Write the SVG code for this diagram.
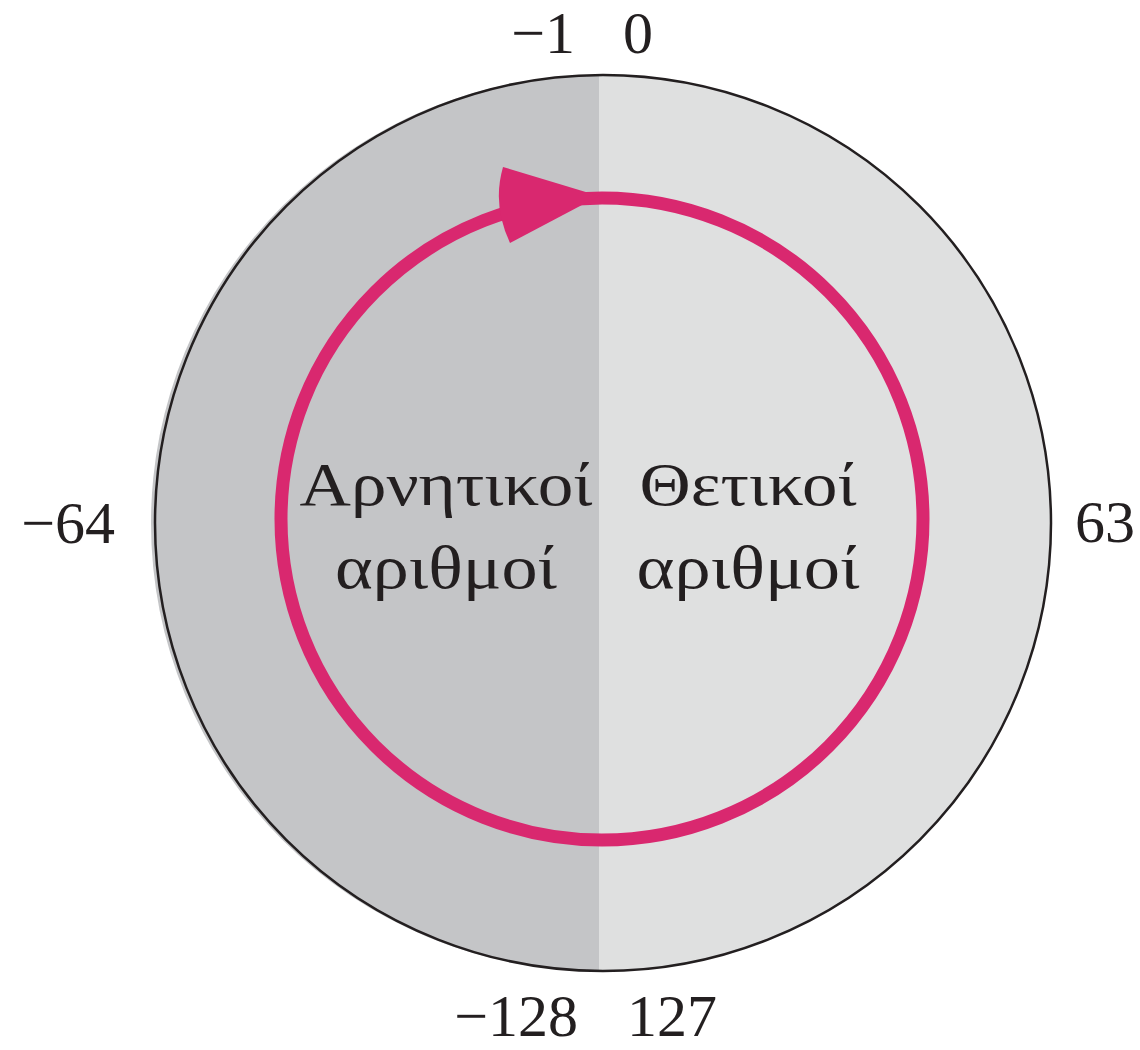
<svg xmlns="http://www.w3.org/2000/svg" width="1140" height="1050" viewBox="0 0 1140 1050">
  <style>
    .num { font-family: "Liberation Serif", "Times New Roman", serif; font-size: 60px; fill: #231f20; }
    .lbl { font-family: "Liberation Serif", "Times New Roman", serif; font-size: 62px; fill: #231f20; text-anchor: middle; }
  </style>
  <rect width="1140" height="1050" fill="#ffffff"/>
  <g id="disc">
    <circle cx="603" cy="523" r="448" fill="#dfe0e0"/>
    <path d="M599,75 A448,448 0 0 0 599,971 Z" fill="#c4c5c7"/>
    <circle cx="603" cy="523" r="448" fill="none" stroke="#231f20" stroke-width="2.5"/>
  </g>
  <g id="connectors">
    <circle cx="602" cy="519" r="321" fill="none" stroke="#d9286f" stroke-width="13"/>
    <path d="M503,167 L599,196 L510,243 Q492,205 503,167 Z" fill="#d9286f"/>
  </g>
  <g id="negative">
    <text class="lbl" x="446" y="505" textLength="293" lengthAdjust="spacingAndGlyphs">Αρνητικοί</text>
    <text class="lbl" x="446" y="588" textLength="222" lengthAdjust="spacingAndGlyphs">αριθμοί</text>
  </g>
  <g id="positive">
    <text class="lbl" x="748" y="505" textLength="217" lengthAdjust="spacingAndGlyphs">Θετικοί</text>
    <text class="lbl" x="748" y="588" textLength="223" lengthAdjust="spacingAndGlyphs">αριθμοί</text>
  </g>
  <g id="labels">
    <text class="num" x="575" y="53" text-anchor="end">−1</text>
    <text class="num" x="623" y="53">0</text>
    <text class="num" x="115" y="543" text-anchor="end">−64</text>
    <text class="num" x="1075" y="542">63</text>
    <text class="num" x="578" y="1036" text-anchor="end">−128</text>
    <text class="num" x="627" y="1036">127</text>
  </g>
</svg>
